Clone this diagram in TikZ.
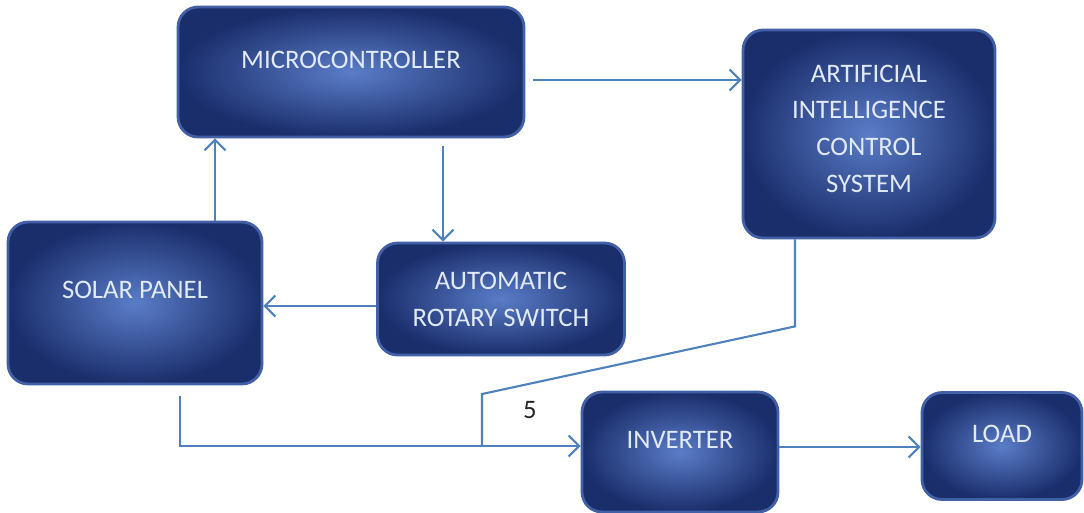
\documentclass[tikz,border=0pt]{standalone}
\usepackage{fontspec}
\setmainfont{Carlito}
\usetikzlibrary{arrows.meta,positioning}
\definecolor{boxin}{RGB}{90,125,200}
\definecolor{boxout}{RGB}{27,46,108}
\definecolor{boxrim}{RGB}{66,96,165}
\definecolor{wire}{RGB}{79,129,189}
\definecolor{boxtext}{RGB}{225,234,248}
\tikzset{
	x=0.02cm,
	y=-0.02cm,
	>={Straight Barb[length=6pt,width=12pt]},
	block/.style={
		rectangle,
		rounded corners=0.4cm,
		draw=boxrim,
		line width=1.6pt,
		inner color=boxin,
		outer color=boxout,
		text=boxtext,
		align=center,
		font=\fontsize{15.2}{21}\selectfont
	},
	line/.style={
		draw=wire,
		line width=1.2pt
	},
	post/.style={line,->}
}
\begin{document}
\begin{tikzpicture}
	\useasboundingbox (0,0) rectangle (1084,512);
	
	\node [block, minimum width=6.92cm, minimum height=2.6cm, text depth=13.6pt] (mc) at (351,72) {MICROCONTROLLER};
	\node [block, minimum width=5.04cm, minimum height=4.16cm, text depth=6pt] (ai) at (869,134) {ARTIFICIAL\\INTELLIGENCE\\CONTROL\\SYSTEM};
	\node [block, minimum width=5.08cm, minimum height=3.24cm, text depth=15pt] (sp) at (135,303) {SOLAR PANEL};
	\node [block, minimum width=4.94cm, minimum height=2.24cm] (ars) at (501,299) {AUTOMATIC\\ROTARY SWITCH};
	\node [block, minimum width=3.92cm, minimum height=2.4cm, text depth=13.6pt] (inv) at (680,452) {INVERTER};
	\node [block, minimum width=3.2cm, minimum height=2.14cm, text depth=13.6pt] (ld) at (1002,446) {LOAD};
	
	\coordinate (bend) at (482,394);
	\coordinate (jn) at (482,446);
	\node [font=\fontsize{15.2}{18}\selectfont, text=black!85] (five) at (530,410) {5};
	
	\draw [post] ([xshift=1.6cm]sp.north) -- ([xshift=1.6cm]sp.north |- mc.south);
	\draw [post] ([xshift=0.16cm,yshift=-0.16cm]mc.east) -- ([yshift=-0.16cm]mc.east -| ai.west);
	\draw [post] ([xshift=1.84cm,yshift=-0.16cm]mc.south) -- ([xshift=1.84cm]mc.south |- ars.north);
	\draw [post] ([yshift=-0.14cm]ars.west) -- ([yshift=-0.14cm]ars.west -| sp.east);
	\draw [post] ([xshift=0.9cm,yshift=-0.22cm]sp.south) |- ([yshift=0.12cm]inv.west);
	\draw [line] ([xshift=-1.48cm]ai.south) -- ++(0,87) -- (bend) -- (jn);
	\draw [post] ([yshift=0.1cm]inv.east) -- ([yshift=0.1cm]inv.east -| ld.west);
\end{tikzpicture}
\end{document}
